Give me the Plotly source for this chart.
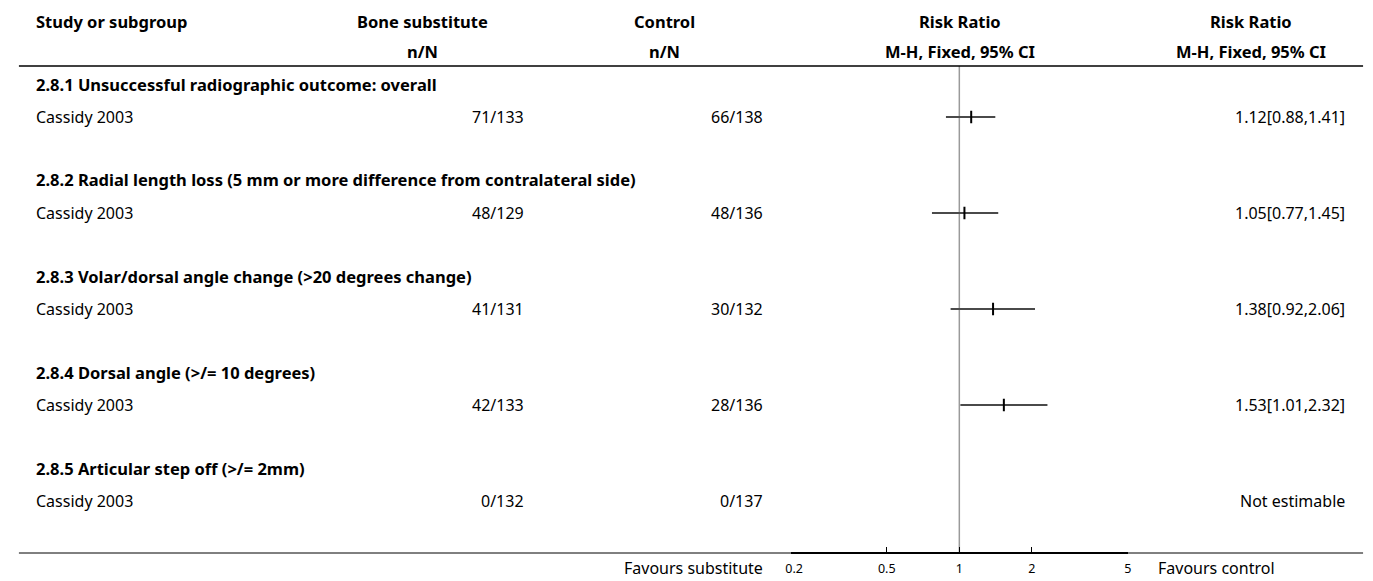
import math
import plotly.graph_objects as go

# ---------------- data ----------------
groups = [
    "2.8.1 Unsuccessful radiographic outcome: overall",
    "2.8.2 Radial length loss (5 mm or more difference from contralateral side)",
    "2.8.3 Volar/dorsal angle change (>20 degrees change)",
    "2.8.4 Dorsal angle (>/= 10 degrees)",
    "2.8.5 Articular step off (>/= 2mm)",
]
studies = ["Cassidy 2003", "Cassidy 2003", "Cassidy 2003", "Cassidy 2003", "Cassidy 2003"]
sub_events = [71, 48, 41, 42, 0]
sub_total = [133, 129, 131, 133, 132]
ctl_events = [66, 48, 30, 28, 0]
ctl_total = [138, 136, 132, 136, 137]
rr = [1.12, 1.05, 1.38, 1.53, None]
rr_lo = [0.88, 0.77, 0.92, 1.01, None]
rr_hi = [1.41, 1.45, 2.06, 2.32, None]
tick_vals = [0.2, 0.5, 1, 2, 5]
tick_text = ["0.2", "0.5", "1", "2", "5"]

# ---------------- layout helpers ----------------
W, H = 1373, 581
PLOT_BOTTOM = 552      # axis line (width 2) is drawn centred at 553
RULE_Y = 553
FONT = "Noto Sans"
REG = 16
BOLD = 16.5


def px(x):
    return x / W


def py(y):
    return (H - y) / H


def header_y(i):
    return 84 + 96 * i


def study_y(i):
    return 117 + 96 * i


fig = go.Figure()

# null line
fig.add_trace(go.Scatter(x=[1, 1], y=[66, PLOT_BOTTOM], mode="lines",
                         line=dict(color="#9a9a9a", width=1.5),
                         hoverinfo="skip", showlegend=False))

ann = []


def add_text(x, y, text, anchor="left", bold=False, size=None, vanchor="middle"):
    ann.append(dict(
        x=px(x), y=py(y), xref="paper", yref="paper",
        text=("<b>%s</b>" % text) if bold else text,
        xanchor=anchor, yanchor=vanchor, showarrow=False,
        font=dict(family=FONT, size=size or (BOLD if bold else REG), color="black"),
    ))


# headers
add_text(22, 22, "Study or subgroup", "left", True)
add_text(415, 22, "Bone substitute", "center", True)
add_text(415, 52, "n/N", "center", True)
add_text(660, 22, "Control", "center", True)
add_text(660, 52, "n/N", "center", True)
add_text(959, 22, "Risk Ratio", "center", True)
add_text(959, 52, "M-H, Fixed, 95% CI", "center", True)
add_text(1254, 22, "Risk Ratio", "center", True)
add_text(1254, 52, "M-H, Fixed, 95% CI", "center", True)

for i, g in enumerate(groups):
    hy = header_y(i)
    sy = study_y(i)
    add_text(22, hy, g, "left", True)
    add_text(22, sy, studies[i], "left")
    add_text(520, sy, "%d/%d" % (sub_events[i], sub_total[i]), "right")
    add_text(762, sy, "%d/%d" % (ctl_events[i], ctl_total[i]), "right")
    if rr[i] is None:
        add_text(1351, sy, "Not estimable", "right")
    else:
        add_text(1351, sy, "%.2f[%.2f,%.2f]" % (rr[i], rr_lo[i], rr_hi[i]), "right")
        fig.add_trace(go.Scatter(x=[rr_lo[i], rr_hi[i]], y=[sy, sy], mode="lines",
                                 line=dict(color="#4a4a4a", width=2),
                                 hoverinfo="skip", showlegend=False))
        fig.add_trace(go.Scatter(x=[rr[i]], y=[sy], mode="markers",
                                 marker=dict(symbol="line-ns", size=9,
                                             line=dict(width=2, color="black")),
                                 hoverinfo="skip", showlegend=False))

add_text(762, 581, "Favours substitute", "right", vanchor="bottom")
add_text(1157, 581, "Favours control", "left", vanchor="bottom")

shapes = [
    dict(type="line", xref="paper", yref="paper", x0=px(7), x1=px(1367), y0=py(66), y1=py(66),
         line=dict(color="black", width=1.5)),
    dict(type="line", xref="paper", yref="paper", x0=px(7), x1=px(1367), y0=py(RULE_Y), y1=py(RULE_Y),
         line=dict(color="black", width=1)),
]

# first tick label sits a little to the right of its tick in the reference
shown_ticks = ["\u00a0\u00a0" + tick_text[0]] + tick_text[1:]

fig.update_layout(
    width=W, height=H,
    margin=dict(l=0, r=0, t=0, b=0),
    paper_bgcolor="white", plot_bgcolor="white",
    showlegend=False,
    annotations=ann,
    shapes=shapes,
    font=dict(family=FONT, size=REG, color="black"),
    xaxis=dict(
        type="log",
        range=[math.log10(0.2), math.log10(5)],
        domain=[px(788), px(1129)],
        tickvals=tick_vals, ticktext=shown_ticks,
        ticks="inside", ticklen=5, tickwidth=1, tickcolor="black",
        showline=True, linewidth=2, linecolor="black",
        showgrid=False, zeroline=False,
        tickfont=dict(family=FONT, size=12.5, color="black"),
        ticklabelstandoff=4,
        fixedrange=True,
    ),
    yaxis=dict(
        range=[PLOT_BOTTOM, 0],
        domain=[(H - PLOT_BOTTOM) / H, 1],
        visible=False, showgrid=False, zeroline=False,
        fixedrange=True,
    ),
)

fig.write_html(
    "out.html",
    config={"displayModeBar": False},
    post_script=("document.documentElement.style.overflow='hidden';"
                 "document.body.style.margin='0';"
                 "document.body.style.overflow='hidden';"),
)
